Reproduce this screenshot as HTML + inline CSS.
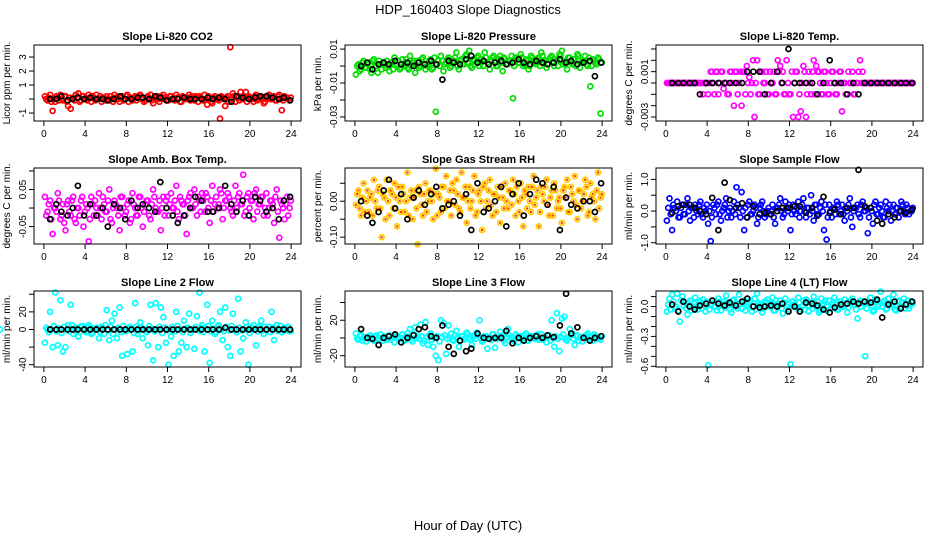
<!DOCTYPE html>
<html><head><meta charset="utf-8"><style>
html,body{margin:0;padding:0;background:#fff;}
svg{display:block;font-family:"Liberation Sans",sans-serif;}
</style></head><body>
<svg id="chart" width="936" height="540" viewBox="0 0 936 540" xmlns="http://www.w3.org/2000/svg">
<text x="468" y="14" text-anchor="middle" font-size="13">HDP_160403  Slope Diagnostics</text>
<text x="468" y="530" text-anchor="middle" font-size="13">Hour of Day (UTC)</text>
</svg>
<script>
const hoursColor=[0.1,0.35,0.6,0.85,1.1,1.35,1.6,1.85,2.1,2.35,2.6,2.85,3.1,3.35,3.6,3.85,4.1,4.35,4.6,4.85,5.1,5.35,5.6,5.85,6.1,6.35,6.6,6.85,7.1,7.35,7.6,7.85,8.1,8.35,8.6,8.85,9.1,9.35,9.6,9.85,10.1,10.35,10.6,10.85,11.1,11.35,11.6,11.85,12.1,12.35,12.6,12.85,13.1,13.35,13.6,13.85,14.1,14.35,14.6,14.85,15.1,15.35,15.6,15.85,16.1,16.35,16.6,16.85,17.1,17.35,17.6,17.85,18.1,18.35,18.6,18.85,19.1,19.35,19.6,19.85,20.1,20.35,20.6,20.85,21.1,21.35,21.6,21.85,22.1,22.35,22.6,22.85,23.1,23.35,23.6,23.85];
const hoursColor2=[0.22,0.47,0.72,0.97,1.22,1.47,1.72,1.97,2.22,2.47,2.72,2.97,3.22,3.47,3.72,3.97,4.22,4.47,4.72,4.97,5.22,5.47,5.72,5.97,6.22,6.47,6.72,6.97,7.22,7.47,7.72,7.97,8.22,8.47,8.72,8.97,9.22,9.47,9.72,9.97,10.22,10.47,10.72,10.97,11.22,11.47,11.72,11.97,12.22,12.47,12.72,12.97,13.22,13.47,13.72,13.97,14.22,14.47,14.72,14.97,15.22,15.47,15.72,15.97,16.22,16.47,16.72,16.97,17.22,17.47,17.72,17.97,18.22,18.47,18.72,18.97,19.22,19.47,19.72,19.97,20.22,20.47,20.72,20.97,21.22,21.47,21.72,21.97,22.22,22.47,22.72,22.97,23.22,23.47,23.72,23.97];
const hoursBlack=[0.6,1.2,1.7,2.3,2.8,3.3,3.9,4.5,5.1,5.7,6.2,6.8,7.4,7.9,8.5,9.1,9.6,10.2,10.8,11.3,11.9,12.5,13.0,13.6,14.2,14.7,15.3,15.9,16.4,17.0,17.6,18.2,18.7,19.3,19.9,20.5,21.0,21.6,22.2,22.8,23.3,23.9];
const xTicks=[0,4,8,12,16,20,24];

const co2Color=[0.2,-0.1,0.3,-0.85,-0.2,0.1,0.3,-0.1,0.2,-0.5,-0.7,0.1,0.3,0.4,-0.1,0.2,0.0,0.3,-0.2,0.1,0.3,0.0,-0.2,0.1,0.2,-0.1,0.0,0.3,0.1,-0.2,0.2,0.0,0.3,0.1,-0.1,0.2,0.1,0.3,0.0,-0.1,0.2,0.3,-0.3,0.1,0.0,0.2,0.3,0.1,-0.1,0.2,0.0,0.3,0.1,-0.2,0.1,0.0,0.3,0.2,-0.1,0.1,0.2,0.0,0.3,-0.4,0.1,-0.3,0.2,0.0,-1.4,0.1,-0.5,0.2,3.7,0.4,-0.2,0.1,0.5,0.0,0.5,0.2,0.1,-0.2,0.3,0.0,0.2,-0.3,0.1,0.3,0.0,0.2,-0.1,0.3,-0.8,0.2,0.1,-0.1];
const co2Color2=[0.0,0.1,-0.2,0.0,0.2,-0.1,0.0,0.2,-0.2,0.1,0.0,-0.1,0.1,-0.2,0.2,0.0,-0.1,0.1,0.2,-0.1,0.0,0.2,0.1,-0.1,0.0,0.2,-0.2,0.1,0.0,0.1,-0.1,0.2,-0.2,0.0,0.1,-0.1,0.2,0.0,-0.2,0.1,0.0,-0.1,0.1,0.2,-0.2,0.0,0.1,-0.1,0.2,0.0,-0.1,0.1,-0.2,0.2,0.0,0.1,-0.1,0.0,0.2,-0.2,0.1,-0.1,0.0,0.2,-0.2,0.1,0.0,-0.1,0.2,0.0,0.1,-0.2,0.0,0.2,0.1,-0.1,0.0,0.2,-0.2,0.1,0.0,0.2,-0.1,0.1,0.0,-0.2,0.2,0.0,0.1,-0.1,0.2,0.0,-0.1,0.1,0.0,0.1];
const co2Black=[0.0,0.0,0.2,-0.1,0.0,0.1,0.0,0.1,0.0,0.0,-0.1,0.0,0.2,0.0,0.0,0.1,0.1,0.0,0.2,0.1,-0.1,0.0,0.0,0.1,0.0,0.0,0.0,0.1,0.0,0.1,0.0,-0.2,0.2,0.1,0.0,0.1,0.2,0.2,0.1,0.0,0.1,-0.1];
const presColor=[-0.005,0.001,-0.002,0.003,-0.001,0.002,-0.004,0.004,0.000,0.003,-0.002,0.001,0.003,-0.003,0.002,0.005,0.000,-0.002,0.004,0.001,-0.001,0.006,0.002,-0.004,0.003,0.000,0.005,-0.002,0.001,0.004,-0.001,-0.027,0.003,0.006,-0.003,0.002,0.005,0.000,0.003,0.008,-0.002,0.004,0.001,0.007,0.009,-0.001,0.003,0.005,0.000,0.004,0.008,0.002,-0.002,0.005,0.003,0.000,0.006,-0.003,0.004,0.001,0.003,-0.019,0.005,0.002,0.007,0.000,0.004,-0.002,0.006,0.003,0.001,0.005,0.008,0.002,-0.001,0.004,0.006,0.000,0.003,0.007,0.009,0.002,-0.002,0.005,0.001,0.004,0.007,-0.001,0.003,0.006,0.000,-0.012,0.004,0.002,0.005,-0.028];
const presColor2=[0.0,-0.003,0.002,-0.001,0.001,-0.002,0.003,0.0,-0.004,0.001,0.002,-0.001,0.0,0.002,-0.002,0.001,0.003,-0.001,0.0,0.004,-0.002,0.001,0.003,0.0,-0.001,0.004,0.001,0.0,0.003,-0.002,0.005,0.001,0.0,0.003,0.001,0.004,-0.001,0.002,0.005,0.0,0.003,0.001,0.006,0.002,0.0,0.004,0.001,0.006,0.002,0.0,0.005,0.001,0.003,0.006,0.0,0.004,0.002,0.005,0.001,0.003,0.006,0.0,0.004,0.002,0.005,0.001,0.003,0.0,0.005,0.002,0.004,0.0,0.006,0.003,0.001,0.005,0.002,0.004,0.0,0.006,0.001,0.003,0.005,0.002,0.004,0.0,0.006,0.002,0.003,0.001,0.005,0.0,0.003,0.001,0.004,0.002];
const presBlack=[0.0,0.002,-0.002,0.001,0.002,0.001,0.003,0.001,0.002,0.000,0.002,0.001,0.003,0.001,-0.008,0.003,0.002,0.001,0.004,0.006,0.002,0.003,0.001,0.002,0.003,0.001,0.002,0.004,0.002,0.001,0.003,0.002,0.001,0.002,0.004,0.002,0.003,0.001,0.002,0.003,-0.006,0.002];
const tempColor=[0,0,0,0,0,0,0,0,0,0,0,0,0,0,-0.001,0,-0.001,0.001,0,0.001,-0.001,0.001,-0.0005,0,-0.001,0.001,-0.002,0.001,0,-0.002,0.001,0.0015,0.0005,0,-0.003,0.002,-0.001,0.001,0,-0.001,0.001,0,-0.001,0.002,0.0015,0.001,-0.001,0,-0.001,-0.003,0.001,-0.003,-0.0025,0.0015,-0.003,0.001,-0.001,0.002,0.0015,0.001,-0.001,0.001,0,-0.001,0.001,0,-0.001,0.001,-0.0025,0,-0.001,0,0.001,-0.001,0,0.002,0.001,0,0,0,0,0,0,0,0,0,0,0,0,0,0,0,0,0,0,0];
const tempColor2=[0,0,0,0,0,0,0,0,0,0,0,0,0,0,0,0,0,0.001,-0.001,0.001,0,0.001,0,-0.001,0.001,0,0.001,-0.001,0.001,0.001,-0.001,0,-0.001,0.002,0,-0.001,0.001,0,0.001,-0.001,0,0.001,-0.001,0.001,0,-0.001,0.002,-0.001,0.001,0,0.001,-0.001,0,0.001,-0.001,0,0.001,-0.001,0.001,0,-0.001,0.001,-0.001,0,0.001,-0.001,0,0.001,0,-0.001,0.001,0,-0.001,0,0.001,0,0,0,0,0,0,0,0,0,0,0,0,0,0,0,0,0,0,0,0,0];
const tempBlack=[0,0,0,0,0,-0.001,0,0,0,0,0,0,0,0.001,0.001,0.001,-0.001,0,0.001,0,0.003,0,0,0,0,-0.001,0,0.002,0,0,-0.001,0,-0.001,0,0,0,0,0,0,0,0,0];
const ambColor=[0.03,-0.01,0.02,-0.07,0.00,0.04,-0.03,0.01,-0.06,0.02,-0.02,0.03,-0.04,0.00,0.02,-0.05,0.01,-0.09,0.03,-0.02,0.00,0.04,-0.03,0.01,-0.01,0.05,-0.04,0.02,0.00,-0.06,0.03,-0.02,0.01,-0.04,0.04,0.00,-0.02,0.03,-0.05,0.01,0.02,-0.03,0.05,0.00,-0.01,-0.06,0.03,0.02,-0.02,0.04,0.00,0.06,-0.03,0.02,0.01,-0.07,0.03,0.00,0.05,-0.02,0.02,0.04,-0.01,0.03,-0.04,0.06,0.01,0.00,0.05,-0.03,0.02,0.04,0.00,-0.02,0.06,0.03,0.01,0.09,-0.01,0.04,0.02,-0.03,0.05,0.01,0.03,-0.02,0.04,0.00,0.02,-0.04,0.05,-0.08,0.01,-0.03,0.03,0.00];
const ambColor2=[-0.02,0.01,-0.03,0.00,-0.01,0.02,-0.02,-0.04,0.01,-0.01,0.02,-0.03,0.00,-0.02,0.03,-0.01,0.00,-0.03,0.01,0.02,-0.02,0.00,0.03,-0.01,0.02,-0.03,0.00,0.01,-0.02,0.03,0.00,-0.01,0.02,-0.03,0.01,-0.02,0.03,0.00,-0.01,0.02,-0.02,0.01,0.03,-0.01,0.02,0.00,-0.02,0.03,0.01,0.00,0.02,-0.01,0.03,0.01,-0.02,0.02,0.04,0.00,0.01,0.03,-0.01,0.02,0.04,0.00,0.02,-0.01,0.03,0.01,0.04,0.00,0.02,0.03,-0.01,0.02,0.00,0.04,0.01,-0.02,0.03,0.00,0.02,0.04,-0.01,0.01,0.03,0.00,-0.02,0.02,0.01,0.03,-0.01,0.02,0.00,0.01,-0.02,0.02];
const ambBlack=[-0.03,0.01,-0.01,-0.02,0.00,0.06,-0.02,0.01,-0.02,0.00,-0.05,0.01,0.00,-0.03,0.02,0.00,0.01,0.00,-0.01,0.07,0.00,-0.02,-0.04,-0.02,0.00,0.03,0.02,-0.01,-0.01,0.00,0.06,0.01,-0.01,0.02,-0.02,0.03,0.02,-0.01,0.00,-0.03,0.02,0.03];
const rhColor=[-0.01,0.03,-0.04,0.05,0.00,-0.03,0.02,0.06,-0.02,0.04,-0.10,0.01,0.06,-0.04,0.02,0.05,-0.07,0.00,0.04,-0.03,0.08,0.01,-0.05,0.03,-0.12,0.02,-0.04,0.05,0.00,0.03,-0.05,0.09,0.02,-0.03,0.04,0.07,0.00,-0.04,0.03,0.06,-0.02,0.08,0.01,-0.06,0.04,0.00,0.07,-0.03,0.03,-0.08,0.05,0.00,0.06,-0.04,0.02,0.04,-0.06,0.01,0.05,-0.02,0.03,0.06,-0.04,0.00,0.05,-0.07,0.02,0.04,-0.03,0.07,0.01,-0.07,0.04,0.00,0.06,-0.04,0.03,0.05,-0.02,0.01,-0.06,0.04,0.06,-0.03,0.02,0.07,-0.05,0.03,0.00,0.06,-0.04,0.05,0.02,-0.05,0.08,0.01];
const rhColor2=[0.02,-0.02,0.01,-0.03,0.03,0.01,-0.04,0.00,0.03,-0.02,0.02,-0.05,0.00,0.03,-0.02,0.01,0.04,-0.03,0.02,0.00,-0.04,0.03,0.01,-0.02,0.04,-0.01,0.02,-0.03,0.03,0.00,0.02,-0.04,0.01,0.04,-0.02,0.00,0.03,0.05,-0.01,0.02,-0.03,0.01,0.04,0.00,-0.02,0.03,-0.04,0.02,0.00,0.04,-0.02,0.03,-0.01,0.02,-0.03,0.01,0.04,-0.02,0.00,0.03,-0.01,0.02,0.04,-0.03,0.01,0.03,-0.02,0.00,0.04,-0.01,0.03,-0.03,0.02,0.04,-0.01,0.01,-0.04,0.03,0.00,-0.02,0.03,0.01,-0.03,0.04,0.00,-0.01,0.03,-0.02,0.02,0.04,-0.03,0.01,0.00,0.03,-0.02,0.02];
const rhBlack=[0.00,-0.04,-0.06,-0.03,0.03,0.06,-0.02,0.02,-0.05,0.01,0.03,-0.01,0.02,0.04,-0.02,-0.01,0.00,-0.04,0.02,-0.08,0.05,-0.03,-0.02,0.00,0.04,-0.07,0.02,0.05,-0.04,0.02,0.06,0.05,-0.01,0.04,-0.08,0.01,-0.01,-0.02,0.00,0.00,-0.03,0.05];
const flowColor=[-0.3,0.4,-0.6,0.1,0.3,-0.2,0.2,-0.1,0.4,-0.3,0.1,0.2,-0.1,0.3,-0.2,0.0,-0.4,-0.95,0.2,-0.1,0.3,-0.3,0.1,0.4,0.0,-0.2,0.3,0.75,0.1,0.6,-0.6,-0.2,0.3,-0.1,0.2,-0.4,0.1,0.3,-0.2,0.0,-0.1,0.2,-0.4,0.1,0.4,-0.2,0.3,0.0,-0.6,0.2,-0.1,0.3,0.0,0.4,-0.2,0.1,0.5,-0.3,0.2,-0.1,0.3,-0.6,-0.9,0.2,-0.2,0.1,0.3,-0.1,0.2,-0.3,0.0,0.4,-0.5,0.1,0.2,-0.2,0.3,0.0,-0.7,0.1,-0.4,0.3,-0.1,0.2,-0.2,0.3,0.0,-0.3,0.2,0.1,-0.2,0.3,0.0,0.2,-0.1,0.0];
const flowColor2=[0.1,-0.1,0.2,0.0,-0.2,0.1,-0.1,0.2,0.0,0.1,-0.2,0.0,0.2,-0.1,0.1,0.2,0.0,-0.2,0.1,0.2,-0.1,0.0,0.2,-0.2,0.1,0.0,-0.1,0.2,-0.2,0.0,0.1,0.2,-0.1,0.0,0.1,-0.2,0.2,0.0,-0.1,0.1,0.0,-0.2,0.1,0.2,0.0,-0.1,0.1,0.2,-0.1,0.0,0.1,-0.2,0.2,0.0,0.1,-0.1,0.0,0.2,-0.1,0.1,0.0,0.2,-0.2,0.0,0.1,-0.1,0.2,0.0,-0.1,0.1,0.2,-0.2,0.0,0.1,-0.1,0.2,0.0,0.1,-0.2,0.0,0.2,-0.1,0.1,0.0,-0.2,0.1,0.2,0.0,-0.1,0.1,0.0,0.2,-0.1,0.1,0.0,0.1];
const flowBlack=[-0.05,0.15,0.2,0.2,0.1,0.0,-0.1,0.42,-0.6,0.9,0.35,0.1,0.25,-0.2,0.15,-0.1,-0.05,-0.1,0.0,0.1,0.1,0.15,0.15,-0.05,0.1,-0.15,0.45,-0.05,0.05,-0.1,0.1,0.1,1.3,0.15,0.1,-0.3,-0.4,-0.1,-0.2,0.0,-0.05,0.05];
const line2Color=[-15,0,20,-20,42,-18,33,-25,-20,5,28,-5,0,-8,3,0,-3,5,-5,0,2,-10,3,-5,22,-12,10,18,-10,25,-30,0,-28,3,-25,30,-5,8,-10,0,-18,28,-35,30,-20,25,14,-15,-40,-8,-30,20,-25,-15,10,-20,18,0,-22,15,42,5,-25,28,-38,10,-5,3,20,-12,25,-20,-30,18,0,35,-25,-10,8,-40,0,5,-18,3,10,-5,0,3,20,-12,5,0,-3,2,0,-2];
const line2Color2=[2,-3,0,4,-2,1,-4,3,0,-2,5,-1,2,-3,4,0,-2,3,-4,1,0,-3,2,5,-1,3,-5,0,2,-3,4,-2,1,0,-4,3,-1,2,0,-3,4,1,-2,0,3,-4,2,-1,0,3,-2,4,0,-3,1,2,-4,0,3,-1,2,-3,0,4,-2,1,-3,5,0,-2,3,-1,4,0,-3,2,-1,0,3,-4,2,0,-2,4,-1,3,0,-3,2,1,-2,4,0,-1,3,-2,0];
const line2Black=[0,0,0,0,0,0,0,0,0,0,0,0,0,0,0,0,0,0,0,0,0,0,0,0,0,0,0,0,0,0,2,0,0,0,0,0,0,0,0,0,0,0];
const line3Color=[5,-2,3,0,-4,2,0,-3,3,-1,0,2,-2,3,0,-5,2,0,4,-3,5,10,-4,12,2,15,-6,18,-8,5,-10,-20,-25,20,17,-18,14,5,-3,8,-10,2,-2,6,0,-8,3,6,20,-4,2,-12,0,4,-11,0,7,3,-6,10,0,-3,4,-5,2,0,5,-3,2,0,3,-2,4,0,-5,3,20,-10,28,-15,22,24,-3,10,5,-8,3,0,-4,2,5,0,-3,2,0,-2];
const line3Color2=[-1,2,-3,1,0,3,-2,1,-1,4,-3,0,2,-2,1,3,-1,0,-3,2,1,-2,4,0,-1,2,-3,1,3,-2,0,2,-4,1,3,-1,0,-2,3,1,-3,2,0,4,-2,1,-1,3,0,-3,2,1,-2,4,-1,0,2,-3,1,3,0,-2,2,1,-1,3,-3,0,2,-1,4,0,-2,1,3,-3,0,2,-1,1,4,-2,0,3,-1,2,-3,1,0,3,-2,1,4,-1,0,2];
const line3Black=[10,0,-1,-8,0,2,4,-5,0,3,10,12,2,0,14,-10,-18,-3,-15,-12,5,0,-1,0,0,8,-6,0,-3,0,2,0,3,1,14,50,5,12,0,-3,0,2];
const line4Color=[-0.05,0.08,0.12,-0.02,0.13,-0.15,0.10,0.04,-0.08,0.06,0.0,0.09,-0.03,0.05,0.07,-0.05,-0.59,0.02,0.06,0.0,0.08,-0.04,0.05,0.11,0.02,-0.06,0.07,0.03,0.12,-0.02,0.06,0.0,0.04,-0.05,0.08,0.13,0.02,-0.06,0.05,0.07,0.0,0.09,-0.04,0.03,0.06,-0.07,0.08,0.02,-0.58,0.05,0.0,0.09,-0.03,0.06,0.07,-0.05,0.04,0.1,0.0,-0.06,0.08,0.03,-0.04,0.06,0.02,0.09,-0.03,0.05,0.0,0.07,-0.06,0.04,0.08,0.02,-0.12,0.06,0.03,-0.5,0.05,0.09,-0.05,0.07,0.0,0.15,0.04,-0.03,0.08,0.02,0.12,-0.04,0.06,0.0,0.08,0.03,-0.02,0.05];
const line4Color2=[0.02,-0.03,0.05,0.0,-0.04,0.06,0.01,-0.02,0.04,-0.04,0.03,0.0,0.06,-0.02,0.01,0.05,-0.03,0.03,0.0,-0.04,0.05,0.02,-0.01,0.04,-0.03,0.06,0.0,-0.02,0.03,0.05,-0.04,0.02,0.06,0.0,-0.03,0.04,0.01,-0.02,0.05,0.0,0.03,-0.04,0.06,0.01,-0.02,0.04,0.0,-0.03,0.05,0.02,-0.01,0.04,0.0,-0.03,0.06,0.01,-0.02,0.03,0.05,-0.04,0.01,0.06,0.0,-0.02,0.04,0.02,-0.03,0.05,0.0,0.03,-0.01,0.06,0.02,-0.03,0.04,0.0,0.05,-0.02,0.03,0.01,-0.04,0.05,0.02,0.0,0.06,-0.02,0.03,0.01,-0.03,0.05,0.0,0.04,-0.02,0.06,0.01,0.03];
const line4Black=[0.02,-0.05,0.05,0.0,-0.03,0.01,0.03,0.06,0.03,0.01,0.04,0.01,0.05,0.08,0.0,-0.01,0.0,0.01,0.0,0.03,-0.05,0.0,-0.05,0.04,0.03,0.01,-0.03,-0.06,-0.01,0.02,0.03,0.05,0.03,0.05,0.04,0.07,-0.11,0.02,0.05,-0.02,0.02,0.05];

const co2Ticks=[-1,0,1,2,3]; const co2Labels=["-1","","1","2","3"];
const presTicks=[0.01,0,-0.01,-0.02,-0.03]; const presLabels=["0.01","","-0.01","","-0.03"];
const tempTicks=[0.003,0.002,0.001,0,-0.001,-0.002,-0.003]; const tempLabels=["","","0.001","","","","-0.003"];
const ambTicks=[0.10,0.05,0,-0.05]; const ambLabels=["","0.05","","-0.05"];
const rhTicks=[0.05,0,-0.05,-0.10]; const rhLabels=["","0.00","","-0.10"];
const flowTicks=[1,0.5,0,-0.5,-1]; const flowLabels=["1.0","","0.0","","-1.0"];
const line2Ticks=[40,20,0,-20,-40]; const line2Labels=["","20","0","","-40"];
const line3Ticks=[40,20,0,-20]; const line3Labels=["","20","","-20"];
const line4Ticks=[0.1,0,-0.1,-0.2,-0.3,-0.4,-0.5,-0.6]; const line4Labels=["","0.0","","","-0.3","","","-0.6"];

const NS="http://www.w3.org/2000/svg";
const svg=document.getElementById('chart');
function mk(tag,attrs,parent){const e=document.createElementNS(NS,tag);for(const k in attrs)e.setAttribute(k,attrs[k]);(parent||svg).appendChild(e);return e;}

const panels=[
 {key:'co2',title:'Slope Li-820 CO2',ylab:'Licor ppm per min.',col:0,row:0,dom:[-1.57,3.86],c:co2Color,c2:co2Color2,b:co2Black,t:co2Ticks,l:co2Labels,color:'#ff0000'},
 {key:'pressure',title:'Slope Li-820 Pressure',ylab:'kPa per min.',col:1,row:0,dom:[-0.0324,0.0124],c:presColor,c2:presColor2,b:presBlack,t:presTicks,l:presLabels,color:'#00dd00'},
 {key:'temp',title:'Slope Li-820 Temp.',ylab:'degrees C per min.',col:2,row:0,dom:[-0.00335,0.00335],c:tempColor,c2:tempColor2,b:tempBlack,t:tempTicks,l:tempLabels,color:'#ff00ff'},
 {key:'amb-temp',title:'Slope Amb. Box Temp.',ylab:'degrees C per min.',col:0,row:1,dom:[-0.097,0.108],c:ambColor,c2:ambColor2,b:ambBlack,t:ambTicks,l:ambLabels,color:'#ff00ff'},
 {key:'rh',title:'Slope Gas Stream RH',ylab:'percent per min.',col:1,row:1,dom:[-0.119,0.0925],c:rhColor,c2:rhColor2,b:rhBlack,t:rhTicks,l:rhLabels,color:'#ffcc00',dot:'#ff3300'},
 {key:'sample-flow',title:'Slope Sample Flow',ylab:'ml/min per min.',col:2,row:1,dom:[-1.04,1.36],c:flowColor,c2:flowColor2,b:flowBlack,t:flowTicks,l:flowLabels,color:'#0000ff'},
 {key:'line2-flow',title:'Slope Line 2 Flow',ylab:'ml/min per min.',col:0,row:2,dom:[-42.6,43.7],c:line2Color,c2:line2Color2,b:line2Black,t:line2Ticks,l:line2Labels,color:'#00ffff'},
 {key:'line3-flow',title:'Slope Line 3 Flow',ylab:'ml/min per min.',col:1,row:2,dom:[-32.8,53],c:line3Color,c2:line3Color2,b:line3Black,t:line3Ticks,l:line3Labels,color:'#00ffff'},
 {key:'line4-flow',title:'Slope Line 4 (LT) Flow',ylab:'ml/min per min.',col:2,row:2,dom:[-0.607,0.156],c:line4Color,c2:line4Color2,b:line4Black,t:line4Ticks,l:line4Labels,color:'#00ffff'}
];
const colLeft=[34,345,656], rowTop=[45,168,291], W=267, H=76;

panels.forEach(p=>{
 const L=colLeft[p.col], T=rowTop[p.row];
 const g=mk('g',{});
 
 
 const xs=h=>L+W*(h+0.96)/25.92;
 const ys=v=>T+H*(p.dom[1]-v)/(p.dom[1]-p.dom[0]);
 const tt=mk('text',{x:L+W/2,y:T-5,'text-anchor':'middle','font-size':11,'font-weight':'bold'},g);
 tt.textContent=p.title;
 
 
 const yl=mk('text',{x:0,y:0,'text-anchor':'middle','font-size':10,transform:`translate(${L-24},${T+H/2}) rotate(-90)`},g);
 yl.textContent=p.ylab;
 
 
 const pts=mk('g',{},g);
 
 
 function drawColored(vals,hrs){
  vals.forEach((v,i)=>{
   const c=mk('circle',{cx:xs(hrs[i]).toFixed(1),cy:ys(v).toFixed(1),r:2.5,fill:'none',stroke:p.color,'stroke-width':1.7},pts);
   
   
   if(p.dot){const d=mk('circle',{cx:xs(hrs[i]).toFixed(1),cy:ys(v).toFixed(1),r:1.2,fill:p.dot},pts);
    
    }
  });
 }
 drawColored(p.c,hoursColor);
 drawColored(p.c2,hoursColor2);
 const bk=mk('g',{},g);
 
 
 p.b.forEach((v,i)=>{
  const c=mk('circle',{cx:xs(hoursBlack[i]).toFixed(1),cy:ys(v).toFixed(1),r:2.5,fill:'none',stroke:'#000','stroke-width':1.7},bk);
  
  
 });
 const box=mk('rect',{x:L,y:T,width:W,height:H,fill:'none',stroke:'#000','stroke-width':1},g);
 
 
 const xa=mk('g',{},g);
 
 
 mk('line',{x1:xs(xTicks[0]),x2:xs(xTicks[xTicks.length-1]),y1:T+H,y2:T+H,stroke:'#000'},xa);
 xTicks.forEach(t=>{
  mk('line',{x1:xs(t),x2:xs(t),y1:T+H,y2:T+H+5,stroke:'#000'},xa);
  const tx=mk('text',{x:xs(t),y:T+H+16,'text-anchor':'middle','font-size':10},xa);
  tx.textContent=t;
  
  
 });
 const ya=mk('g',{},g);
 
 
 mk('line',{x1:L,x2:L,y1:ys(p.t[0]),y2:ys(p.t[p.t.length-1]),stroke:'#000'},ya);
 p.t.forEach((t,i)=>{
  mk('line',{x1:L-5,x2:L,y1:ys(t),y2:ys(t),stroke:'#000'},ya);
  if(p.l[i]){
   const tx=mk('text',{x:0,y:0,'text-anchor':'middle','font-size':10,transform:`translate(${L-8},${ys(t)}) rotate(-90)`},ya);
   tx.textContent=p.l[i];
   
   
  }
 });
});
</script>
</body></html>
